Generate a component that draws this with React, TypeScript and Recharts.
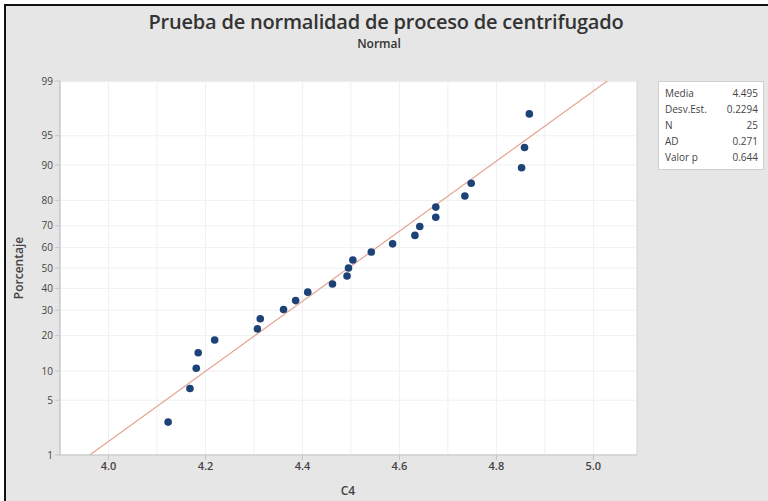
import React from "react";
import {
  ScatterChart,
  Scatter,
  XAxis,
  YAxis,
  ReferenceLine,
} from "recharts";

const c4Values = [
  4.123, 4.168, 4.181, 4.185, 4.219, 4.307, 4.313, 4.361, 4.386, 4.411,
  4.462, 4.492, 4.495, 4.504, 4.542, 4.586, 4.632, 4.642, 4.675, 4.675,
  4.735, 4.748, 4.852, 4.858, 4.868,
];
const percentValues = [
  2.76, 6.69, 10.63, 14.57, 18.5, 22.44, 26.38, 30.31, 34.25, 38.19, 42.13,
  46.06, 50.0, 53.94, 57.87, 61.81, 65.75, 69.69, 73.62, 77.56, 81.5, 85.43,
  89.37, 93.31, 97.24,
];

const yTickPercents = [1, 5, 10, 20, 30, 40, 50, 60, 70, 80, 90, 95, 99];
const xTicks = [4.0, 4.2, 4.4, 4.6, 4.8, 5.0];
const xGrid = [4.0, 4.1, 4.2, 4.3, 4.4, 4.5, 4.6, 4.7, 4.8, 4.9, 5.0];

const statLabels = ["Media", "Desv.Est.", "N", "AD", "Valor p"];
const statValues = ["4.495", "0.2294", "25", "0.271", "0.644"];
const mean = 4.495;
const stdev = 0.2294;

// inverse standard normal cdf (Acklam)
function probit(p: number) {
  const a = [-39.69683028665376, 220.9460984245205, -275.9285104469687, 138.357751867269, -30.66479806614716, 2.506628277459239];
  const b = [-54.47609879822406, 161.5858368580409, -155.6989798598866, 66.80131188771972, -13.28068155211639];
  const c = [-0.007784894002430293, -0.3223964580411365, -2.400758277161838, -2.549732539343734, 4.374664141464968, 2.938163982698783];
  const d = [0.007784695709041462, 0.3224671290700398, 2.445134137142996, 3.754408661907416];
  const pl = 0.02425;
  let q, r;
  if (p < pl) {
    q = Math.sqrt(-2 * Math.log(p));
    return (((((c[0] * q + c[1]) * q + c[2]) * q + c[3]) * q + c[4]) * q + c[5]) / ((((d[0] * q + d[1]) * q + d[2]) * q + d[3]) * q + 1);
  }
  if (p > 1 - pl) {
    q = Math.sqrt(-2 * Math.log(1 - p));
    return -(((((c[0] * q + c[1]) * q + c[2]) * q + c[3]) * q + c[4]) * q + c[5]) / ((((d[0] * q + d[1]) * q + d[2]) * q + d[3]) * q + 1);
  }
  q = p - 0.5;
  r = q * q;
  return ((((((a[0] * r + a[1]) * r + a[2]) * r + a[3]) * r + a[4]) * r + a[5]) * q) / (((((b[0] * r + b[1]) * r + b[2]) * r + b[3]) * r + b[4]) * r + 1);
}

const points = c4Values.map((v, i) => ({ x: v, z: probit(percentValues[i] / 100) }));
const yTicks = yTickPercents.map((p) => probit(p / 100));
const zLow = probit(0.01);
const zHigh = probit(0.99);

const fmtY = (z: number) => {
  const i = yTicks.findIndex((t) => Math.abs(t - z) < 1e-6);
  return i >= 0 ? String(yTickPercents[i]) : "";
};

const font = "'Open Sans', 'Noto Sans', sans-serif";

export default function App() {
  return (
    <div style={{ position: "absolute", left: 0, top: 0, width: 768, height: 501, background: "#fff", fontFamily: font }}>
      <div
        style={{
          position: "absolute",
          left: 4,
          top: 4,
          width: 764,
          height: 497,
          background: "#e6e6e6",
          borderLeft: "2px solid #111",
          borderTop: "2px solid #111",
          boxSizing: "border-box",
        }}
      />
      <div style={{ position: "absolute", left: 0, width: 772, top: 8, textAlign: "center", fontSize: 20, color: "#333", fontWeight: 600, letterSpacing: -0.2 }}>
        Prueba de normalidad de proceso de centrifugado
      </div>
      <div style={{ position: "absolute", left: 0, width: 758, top: 35, textAlign: "center", fontSize: 12, color: "#333", fontWeight: 600 }}>
        Normal
      </div>
      <div style={{ position: "absolute", left: 0, top: 0 }}>
        <ScatterChart width={768} height={501} margin={{ top: 81, right: 131, bottom: 26, left: 30 }}>
          <rect x={60} y={81} width={577} height={374} fill="#fff" stroke="#d2d2d2" />
          <XAxis
            type="number"
            dataKey="x"
            domain={[3.9, 5.09]}
            ticks={xTicks}
            tickFormatter={(v: number) => v.toFixed(1)}
            allowDataOverflow
            height={20}
            tick={{ fontSize: 11, fill: "#444", fontFamily: font, fontWeight: 600 }}
            stroke="#c4c4c4"
            tickSize={5}
          />
          <YAxis
            type="number"
            dataKey="z"
            domain={[zLow, zHigh]}
            ticks={yTicks}
            tickFormatter={fmtY}
            allowDataOverflow
            width={30}
            tick={{ fontSize: 10, fill: "#444", fontFamily: font }}
            stroke="#c4c4c4"
            tickSize={5}
          />
          {xGrid.map((v) => (
            <ReferenceLine key={"gx" + v} x={v} stroke="#f0f0f0" strokeWidth={1} />
          ))}
          {yTicks.map((z, i) => (
            <ReferenceLine key={"gy" + i} y={z} stroke="#f0f0f0" strokeWidth={1} />
          ))}
          <ReferenceLine
            segment={[
              { x: mean + zLow * stdev, y: zLow },
              { x: mean + zHigh * stdev, y: zHigh },
            ]}
            stroke="#e3a592"
            strokeWidth={1.2}
          />
          <Scatter data={points} fill="#1d4277" isAnimationActive={false} shape={(p: any) => <circle cx={p.cx} cy={p.cy} r={3.8} fill="#1d4277" />} />
        </ScatterChart>
      </div>
      <div
        style={{
          position: "absolute",
          left: 10,
          top: 268,
          transform: "translate(-50%, -50%) rotate(-90deg)",
          transformOrigin: "center",
          fontSize: 12,
          fontWeight: 600,
          color: "#444",
          marginLeft: 8,
        }}
      >
        Porcentaje
      </div>
      <div style={{ position: "absolute", left: 330, width: 36, top: 482, textAlign: "center", fontSize: 12, fontWeight: 600, color: "#444" }}>
        C4
      </div>
      <div
        style={{
          position: "absolute",
          left: 658,
          top: 81,
          width: 106,
          height: 89,
          background: "#fff",
          border: "1px solid #cfcfcf",
          boxSizing: "border-box",
          padding: "3px 5px 0 6px",
          fontSize: 10,
          color: "#444",
        }}
      >
        {statLabels.map((l, i) => (
          <div key={l} style={{ display: "flex", justifyContent: "space-between", height: 16, lineHeight: "16px" }}>
            <span>{l}</span>
            <span>{statValues[i]}</span>
          </div>
        ))}
      </div>
    </div>
  );
}
